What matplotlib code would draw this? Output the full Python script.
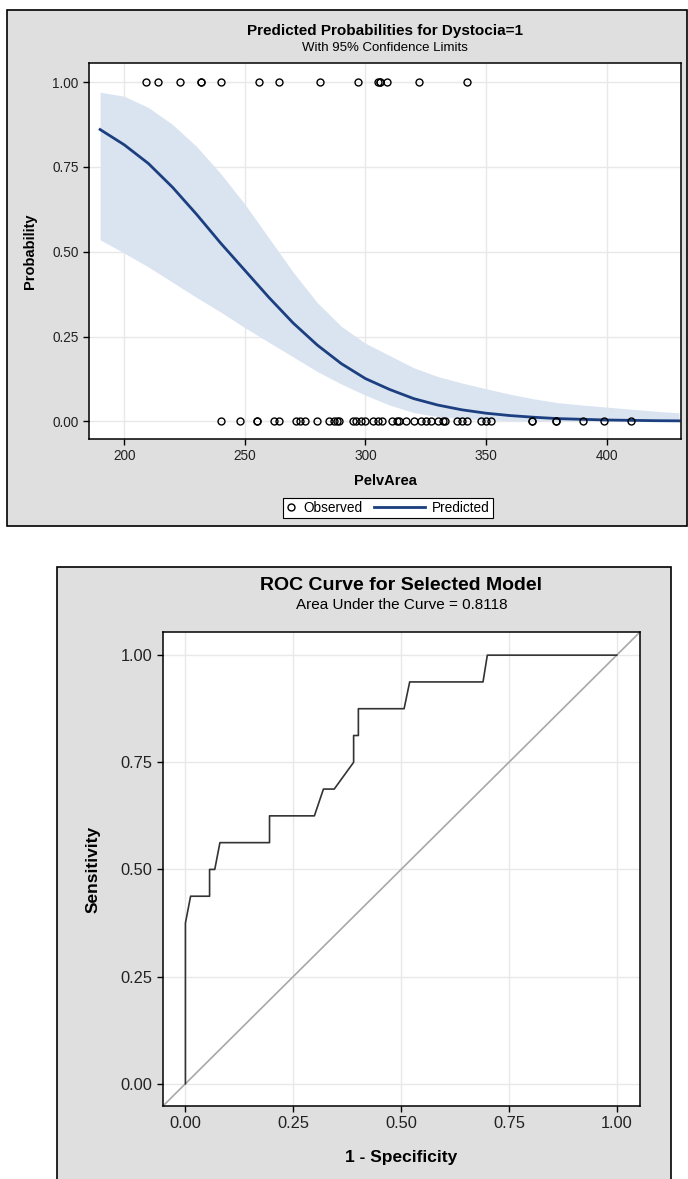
import matplotlib.pyplot as plt
from matplotlib.patches import Rectangle
from matplotlib.lines import Line2D
from matplotlib.legend_handler import HandlerLine2D

plt.rcParams['font.family'] = ['Liberation Sans', 'DejaVu Sans']

# predicted probability for Dystocia=1
pelv_grid = [190, 200, 210, 220, 230, 240, 250, 260, 270, 280, 290, 300, 310,
             320, 330, 340, 350, 360, 370, 380, 390, 400, 410, 420, 430]
pred_prob = [0.860, 0.815, 0.760, 0.690, 0.610, 0.525, 0.445, 0.365, 0.290, 0.225,
             0.170, 0.126, 0.094, 0.067, 0.048, 0.034, 0.024, 0.017, 0.012, 0.008,
             0.006, 0.004, 0.003, 0.002, 0.0015]
lower_cl = [0.535, 0.496, 0.455, 0.410, 0.365, 0.322, 0.276, 0.233, 0.190, 0.147,
            0.110, 0.077, 0.048, 0.026, 0.014, 0.008, 0.004, 0.002, 0.001, 0.0008,
            0.0005, 0.0004, 0.0003, 0.0002, 0.0001]
upper_cl = [0.970, 0.958, 0.925, 0.875, 0.810, 0.730, 0.640, 0.540, 0.440, 0.350,
            0.280, 0.230, 0.194, 0.158, 0.132, 0.113, 0.096, 0.080, 0.066, 0.055,
            0.048, 0.042, 0.036, 0.030, 0.025]

# observed cases
area_dystocia = [209, 214, 223, 232, 232, 240, 256, 264, 281, 297, 305, 306, 306,
                 309, 322, 342]
area_normal = [240, 248, 255, 255, 262, 264, 271, 273, 275, 280, 285, 287, 288, 289,
               295, 296, 298, 300, 303, 305, 307, 311, 313, 314, 317, 320, 323, 325,
               327, 330, 332, 333, 338, 340, 342, 348, 350, 352, 369, 369, 379, 379,
               390, 399, 410]

# ROC curve
roc_fpr = [0.0, 0.0, 0.012, 0.056, 0.056, 0.068, 0.080, 0.195, 0.195, 0.299, 0.320,
           0.345, 0.390, 0.390, 0.401, 0.401, 0.507, 0.520, 0.690, 0.700, 1.0]
roc_tpr = [0.0, 0.375, 0.4375, 0.4375, 0.5, 0.5, 0.5625, 0.5625, 0.625, 0.625, 0.6875,
           0.6875, 0.75, 0.8125, 0.8125, 0.875, 0.875, 0.9375, 0.9375, 1.0, 1.0]
prob_ticks = [0.0, 0.25, 0.5, 0.75, 1.0]
pelv_ticks = [200, 250, 300, 350, 400]

W, H = 688, 1179
BG = '#dfdfdf'
fig = plt.figure(figsize=(W / 100, H / 100), dpi=100)


def box(l, t, r, b):
    return [l / W, 1 - b / H, (r - l) / W, (b - t) / H]


for l, t, r, b in [(7, 10, 687, 526), (57, 567, 671, 1190)]:
    x0, y0, w, h = box(l, t, r, b)
    fig.patches.append(Rectangle((x0, y0), w, h, transform=fig.transFigure,
                                 fc=BG, ec='black', lw=1.2, zorder=-10))


def style(ax, size):
    ax.set_facecolor('white')
    ax.grid(True, color='#e8e8e8', lw=1)
    ax.set_axisbelow(True)
    ax.tick_params(direction='out', length=4, width=1, labelsize=size,
                   colors='black', labelcolor='#222222')
    for s in ax.spines.values():
        s.set_linewidth(1.1)


class LongLineHandler(HandlerLine2D):
    def create_artists(self, legend, orig_handle, xdescent, ydescent, width,
                       height, fontsize, trans):
        extra = 3.0 * fontsize
        line = Line2D([-xdescent - extra, width - xdescent],
                      [height / 2 - ydescent] * 2)
        self.update_prop(line, orig_handle, legend)
        line.set_transform(trans)
        return [line]


# ---- predicted probabilities ----
ax1 = fig.add_axes(box(89, 63, 681, 439))
style(ax1, 9.8)
ax1.fill_between(pelv_grid, lower_cl, upper_cl, color='#dae4f1', lw=0)
ax1.plot(pelv_grid, pred_prob, color='#1c3f80', lw=2)
ax1.plot(area_dystocia, [1] * len(area_dystocia), 'o', ls='none', mfc='none',
         mec='black', ms=5, mew=1)
ax1.plot(area_normal, [0] * len(area_normal), 'o', ls='none', mfc='none',
         mec='black', ms=5, mew=1)
ax1.set_xlim(185.4, 430.8)
ax1.set_ylim(-0.052, 1.056)
ax1.set_xticks(pelv_ticks)
ax1.set_yticks(prob_ticks)
ax1.set_yticklabels(['%.2f' % v for v in prob_ticks])
ax1.set_xlabel('PelvArea', fontweight='bold', fontsize=10.5)
ax1.set_ylabel('Probability', fontweight='bold', fontsize=10.5)
ax1.xaxis.set_label_coords(0.5, -0.093)
ax1.yaxis.set_label_coords(-0.088, 0.5)
ax1.text(0.5, 1 + (63 - 31) / 376, 'Predicted Probabilities for Dystocia=1',
         transform=ax1.transAxes, ha='center', va='center', fontsize=11,
         fontweight='bold')
ax1.text(0.5, 1 + (63 - 48) / 376, 'With 95% Confidence Limits',
         transform=ax1.transAxes, ha='center', va='center', fontsize=9.5)

obs_handle = Line2D([], [], ls='none', marker='o', mfc='none', mec='black',
                    ms=5, mew=1)
pred_handle = Line2D([], [], color='#1c3f80', lw=2)
leg = ax1.legend([obs_handle, pred_handle], ['Observed', 'Predicted'],
                 loc='center', bbox_to_anchor=(388 / W, 1 - 508 / H),
                 bbox_transform=fig.transFigure, ncol=2, fontsize=9.8,
                 frameon=True, fancybox=False, edgecolor='black',
                 framealpha=1, handlelength=0.8, handletextpad=0.5,
                 columnspacing=3.8, borderpad=0.25,
                 handler_map={pred_handle: LongLineHandler()})
leg.get_frame().set_linewidth(0.8)

# ---- ROC ----
ax2 = fig.add_axes(box(163, 632, 640, 1106))
style(ax2, 11.8)
ax2.axline((0, 0), slope=1, color='#a8a8a8', lw=1.2)
ax2.plot(roc_fpr, roc_tpr, color='#333333', lw=1.2)
ax2.set_xlim(-0.052, 1.054)
ax2.set_ylim(-0.052, 1.054)
ax2.set_xticks(prob_ticks)
ax2.set_yticks(prob_ticks)
ax2.set_xticklabels(['%.2f' % v for v in prob_ticks])
ax2.set_yticklabels(['%.2f' % v for v in prob_ticks])
ax2.set_xlabel('1 - Specificity', fontweight='bold', fontsize=12.5)
ax2.set_ylabel('Sensitivity', fontweight='bold', fontsize=12.5)
ax2.xaxis.set_label_coords(0.5, -(1150 - 1106) / 474)
ax2.yaxis.set_label_coords(-(163 - 101) / 477, 0.5)
ax2.text(0.5, 1 + (632 - 586) / 474, 'ROC Curve for Selected Model',
         transform=ax2.transAxes, ha='center', va='center', fontsize=14,
         fontweight='bold')
ax2.text(0.5, 1 + (632 - 605) / 474, 'Area Under the Curve = 0.8118',
         transform=ax2.transAxes, ha='center', va='center', fontsize=11)

fig.savefig('out.png', dpi=100)
